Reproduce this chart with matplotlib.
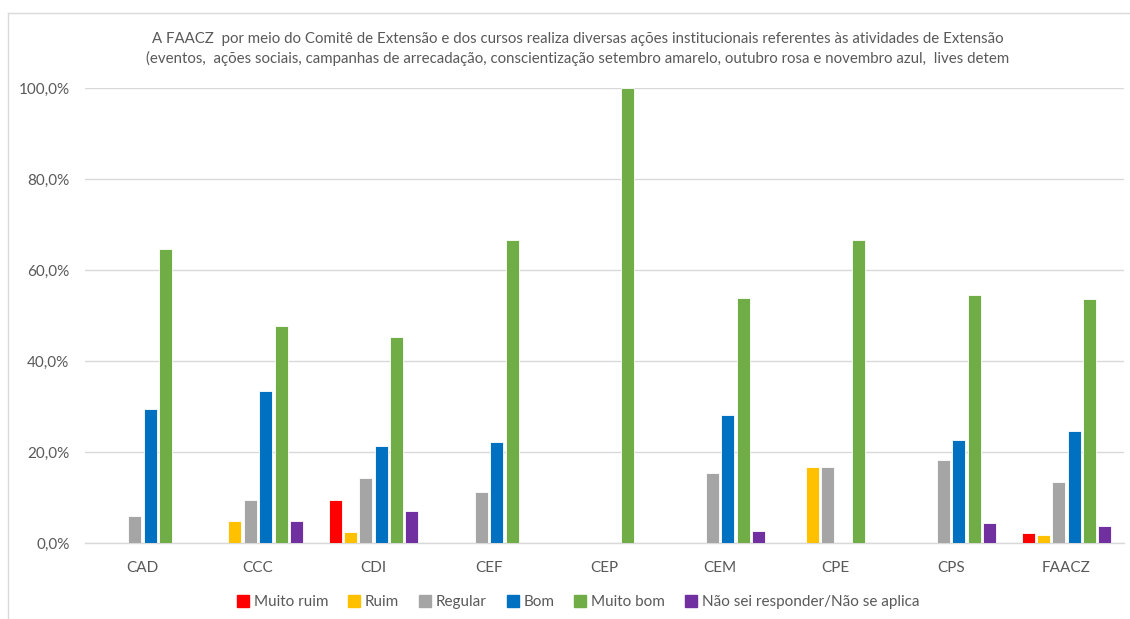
import matplotlib
matplotlib.use("Agg")
import matplotlib.pyplot as plt
import numpy as np
from matplotlib.lines import Line2D
from matplotlib.ticker import FuncFormatter

plt.rcParams['font.family'] = ['Lato', 'DejaVu Sans']

# dados (percentuais)
cursos = ["CAD", "CCC", "CDI", "CEF", "CEP", "CEM", "CPE", "CPS", "FAACZ"]
muito_ruim = [0, 0, 9.5, 0, 0, 0, 0, 0, 2.3]
ruim = [0, 4.8, 2.4, 0, 0, 0, 16.7, 0, 1.7]
regular = [5.9, 9.5, 14.3, 11.1, 0, 15.4, 16.7, 18.2, 13.3]
bom = [29.4, 33.3, 21.4, 22.2, 0, 28.2, 0, 22.7, 24.7]
muito_bom = [64.7, 47.6, 45.2, 66.7, 100.0, 53.8, 66.7, 54.5, 53.7]
nao_sei = [0, 4.8, 7.1, 0, 0, 2.6, 0, 4.5, 3.7]

series = [muito_ruim, ruim, regular, bom, muito_bom, nao_sei]
nomes = ["Muito ruim", "Ruim", "Regular", "Bom", "Muito bom",
         "Não sei responder/Não se aplica"]
cores = ["#FF0000", "#FFC000", "#A5A5A5", "#0070C0", "#70AD47", "#7030A0"]

titulo = ("A FAACZ  por meio do Comitê de Extensão e dos cursos realiza diversas ações institucionais referentes às atividades de Extensão\n"
          "(eventos,  ações sociais, campanhas de arrecadação, conscientização setembro amarelo, outubro rosa e novembro azul,  lives detem")

cinza_txt = "#595959"

fig = plt.figure(figsize=(11.3, 6.19), dpi=100)
ax = fig.add_axes([84.75 / 1130, 76 / 619, 1039.5 / 1130, 455 / 619])

x = np.arange(len(cursos))
passo = 0.133
larg = 0.112
for i, (vals, nome, cor) in enumerate(zip(series, nomes, cores)):
    ax.bar(x + (i - 2.5) * passo, vals, width=larg, color=cor, label=nome,
           edgecolor="white", linewidth=0.6, zorder=3)

ax.set_xlim(-0.5, len(cursos) - 0.5)
ax.set_ylim(0, 100)
ax.set_yticks(np.arange(0, 101, 20))
ax.yaxis.set_major_formatter(FuncFormatter(lambda v, p: f"{v:.1f}%".replace(".", ",")))
ax.set_xticks(x)
ax.set_xticklabels(cursos)
ax.tick_params(axis="both", length=0, labelsize=11, colors=cinza_txt)
ax.tick_params(axis="x", pad=13)
ax.tick_params(axis="y", pad=11)
ax.grid(axis="y", color="#D9D9D9", linewidth=1, zorder=0)
for s in ["top", "right", "left"]:
    ax.spines[s].set_visible(False)
ax.spines["bottom"].set_color("#D9D9D9")
ax.spines["bottom"].set_linewidth(1)

fig.text(578 / 1130, 1 - 49 / 619, titulo, ha="center", va="center",
         fontsize=10.8, color=cinza_txt, linespacing=1.45)

handles = [Line2D([], [], marker="s", linestyle="none", markersize=9,
                  markerfacecolor=c, markeredgecolor=c) for c in cores]
fig.legend(handles, nomes, loc="center", bbox_to_anchor=(578 / 1130, 1 - 602 / 619),
           ncol=6, frameon=False, fontsize=11, labelcolor=cinza_txt,
           handlelength=0.8, handletextpad=0.3, columnspacing=1.3)

# borda do quadro do gráfico
fig.add_artist(Line2D([8 / 1130, 8 / 1130], [0, 1 - 13 / 619], color="#D9D9D9", lw=1))
fig.add_artist(Line2D([8 / 1130, 1], [1 - 13 / 619, 1 - 13 / 619], color="#D9D9D9", lw=1))

fig.savefig("out.png", dpi=100)
